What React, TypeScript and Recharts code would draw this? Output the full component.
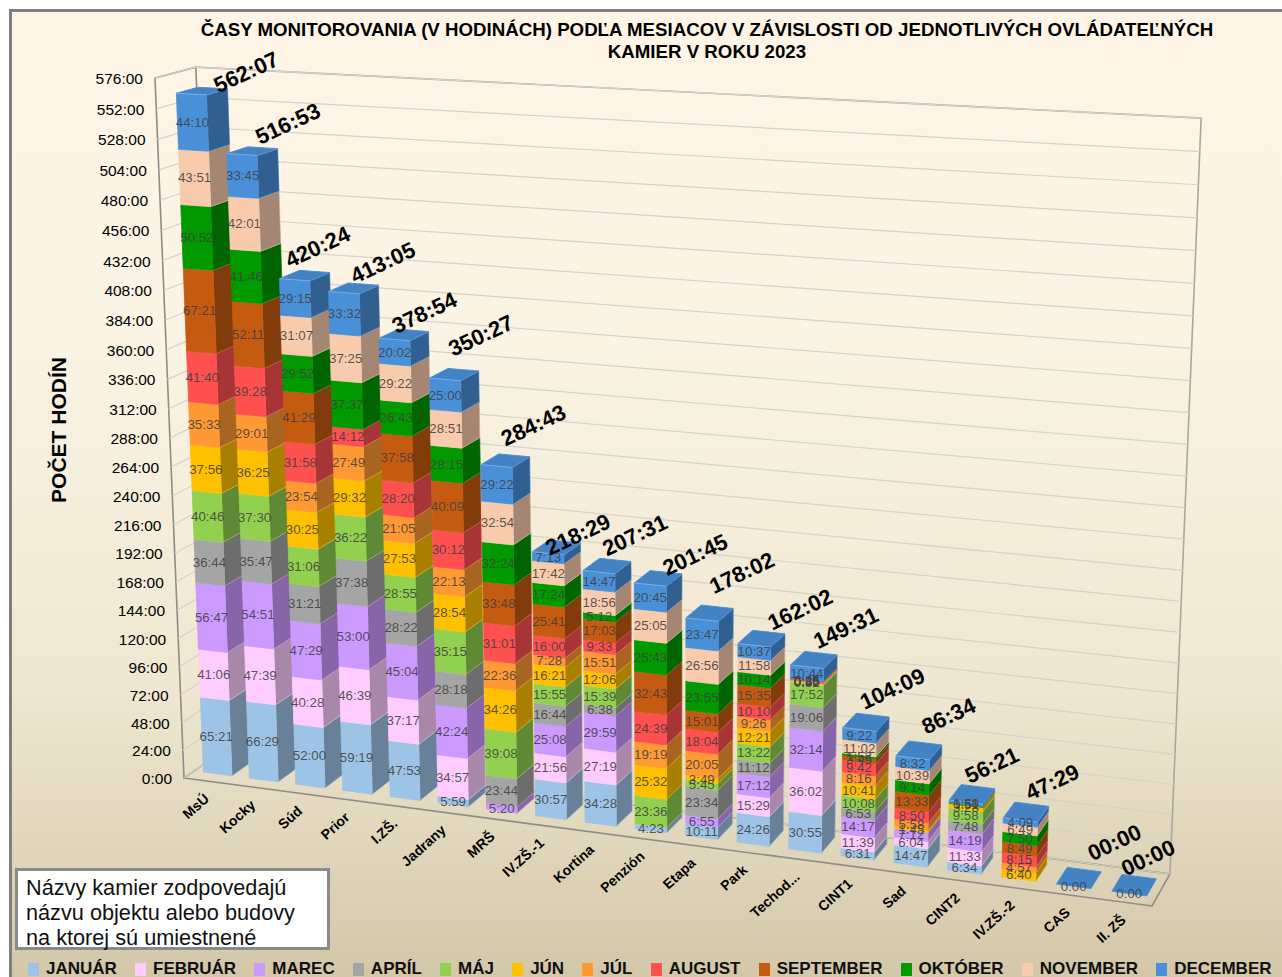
import React from 'react';
import { BarChart, Bar, XAxis, YAxis, CartesianGrid, Legend } from 'recharts';

const cameras = ['MsÚ','Kocky','Súd','Prior','I.ZŠ.','Jadrany','MRŠ','IV.ZŠ.-1','Kortina','Penzión','Etapa','Park','Techod...','CINT1','Sad','CINT2','IV.ZŠ.-2','CAS','II. ZŠ'];
const januar   = ['65:21','66:29','52:00','59:19','47:53','5:59','','30:57','34:28','4:23','10:11','24:26','30:55','6:31','14:47','6:34','','',''];
const februar  = ['41:06','47:39','40:28','46:39','37:17','34:57','','21:56','27:19','','','15:29','36:02','11:39','6:04','11:33','','',''];
const marec    = ['56:47','54:51','47:29','53:00','45:04','42:24','5:20','25:08','29:59','','6:55','17:12','32:14','14:17','7:12','14:19','','',''];
const april    = ['36:44','35:47','31:21','37:38','28:22','28:18','23:44','16:44','6:38','','23:34','11:12','19:06','6:53','','7:48','','',''];
const maj      = ['40:46','37:30','31:06','36:22','28:55','35:15','39:08','15:55','15:39','23:36','5:45','13:22','17:52','10:08','','9:58','','',''];
const jun      = ['37:56','36:25','30:25','29:32','27:53','28:54','34:26','16:21','12:06','25:32','3:49','12:21','0:52','10:41','1:45','3:28','6:40','',''];
const jul      = ['35:33','29:01','23:54','27:49','21:05','22:13','22:36','7:28','15:51','19:19','20:05','9:26','0:46','8:16','5:58','','4:57','',''];
const august   = ['41:40','39:28','31:58','14:12','28:20','30:12','31:01','16:00','9:33','24:39','18:04','10:10','0:35','9:42','8:50','','8:15','',''];
const september= ['67:21','52:11','41:29','','37:58','40:09','33:48','25:41','17:03','32:43','15:01','15:35','0:25','3:45','13:33','','8:49','',''];
const oktober  = ['50:52','41:46','29:52','37:37','26:43','28:15','32:24','17:24','5:12','25:43','23:55','10:14','','1:53','9:14','0:51','7:50','',''];
const november = ['43:51','42:01','31:07','37:25','29:22','28:51','32:54','17:42','18:56','25:05','26:56','11:58','','11:02','10:39','','6:49','',''];
const december = ['44:10','33:45','29:15','33:32','20:02','25:00','29:22','7:13','14:47','20:45','23:47','10:37','10:44','9:22','8:32','1:50','4:09','0:00','0:00'];

const monthKeys = ['jan','feb','mar','apr','maj','jun','jul','aug','sep','okt','nov','dec'];
const monthNames = ['JANUÁR','FEBRUÁR','MAREC','APRÍL','MÁJ','JÚN','JÚL','AUGUST','SEPTEMBER','OKTÓBER','NOVEMBER','DECEMBER'];
const monthColors = ['#9DC3E6','#FFCCFF','#CC99FF','#A5A5A5','#92D050','#FFC000','#FF9933','#FF5050','#C55A11','#009900','#F8CBAD','#4A90D9'];
const monthValues = [januar,februar,marec,april,maj,jun,jul,august,september,oktober,november,december];
const hourTicks = [0,24,48,72,96,120,144,168,192,216,240,264,288,312,336,360,384,408,432,456,480,504,528,552,576];

// hand placement of the total labels, relative to the top of each bar (as moved in the original)
const totalNudgeX = [58,49,26,42,33,39,40,33,39,48,43,49,42,36,39,29,35,44,22];
const totalNudgeY = [-15,-24,-26,-23,-20,-37,-34,-12,-30,-23,-40,-29,-32,-34,-35,-30,-31,-37,-29];

const toMinutes = (s: string) => { if (!s) return 0; const [h, m] = s.split(':').map(Number); return h * 60 + m; };
const rows = cameras.map((name, i) => {
  const row: any = { name, nudgeX: totalNudgeX[i], nudgeY: totalNudgeY[i] };
  let sum = 0;
  monthKeys.forEach((k, j) => {
    const mins = toMinutes(monthValues[j][i]);
    sum += mins;
    row[k] = mins / 60;
    row[k + 'Label'] = monthValues[j][i];
  });
  const h = Math.floor(sum / 60), m = sum % 60;
  row.total = `${String(h).padStart(2, '0')}:${String(m).padStart(2, '0')}`;
  return row;
});

// ---- projection of the box of the 3D chart onto the page
const W = 1282, H = 977;
type P = [number, number];
const A: P = [184, 778], B: P = [1152, 906], C: P = [1170, 874], D: P = [222, 752], E: P = [155, 78];
const VY = 12760;
const det = (a: number[], b: number[], c: number[]) =>
  a[0] * (b[1] * c[2] - b[2] * c[1]) - b[0] * (a[1] * c[2] - a[2] * c[1]) + c[0] * (a[1] * b[2] - a[2] * b[1]);
const h3 = (p: P) => [p[0], p[1], 1];
const a3 = h3(A), b3 = h3(B), c3 = h3(C), d3 = h3(D), e3 = h3(E);
const neg = (v: number[]) => v.map((x) => -x);
const d0 = det(b3, d3, neg(c3));
const alpha = det(a3, d3, neg(c3)) / d0;
const gamma = det(b3, a3, neg(c3)) / d0;
const beta = (VY - A[1]) / (VY - E[1]);
const col = (k: number, v: number[]) => v.map((x, i) => k * x - a3[i]);
const p1 = col(alpha, b3), p2 = col(beta, e3), p3 = col(gamma, d3);
const proj = (u: number, v: number, w: number): P => {
  const q = [0, 1, 2].map((i) => p1[i] * u + p2[i] * v + p3[i] * w + a3[i]);
  return [q[0] / q[2], q[1] / q[2]];
};
const px = (x: number) => (x - 1) / (W - 1);
const py = (y: number) => (H - 1 - y) / (H - 1);
const W0 = 0.27, W1 = 0.8;
const poly = (pts: P[]) => pts.map((p) => `${p[0].toFixed(2)},${p[1].toFixed(2)}`).join(' ');
const shade = (hex: string, f: number) => {
  const n = parseInt(hex.slice(1), 16);
  const c = [(n >> 16) & 255, (n >> 8) & 255, n & 255].map((x) => Math.round(x * f));
  return `rgb(${c[0]},${c[1]},${c[2]})`;
};

// three stacks share a category band: side/top faces, front faces, texts
const SideShape = (monthIdx: number) => (props: any) => {
  const { x, y, width, height } = props;
  const xR = px(x + 3 * width), xL = px(x);
  const t = py(y), b = py(y + height);
  const color = monthColors[monthIdx];
  return (
    <g>
      {height > 0 && (
        <>
          <polygon points={poly([proj(xR, b, W0), proj(xR, b, W1), proj(xR, t, W1), proj(xR, t, W0)])}
            fill={shade(color, 0.66)} stroke={shade(color, 0.85)} strokeWidth={0.6} />
          <polyline points={poly([proj(xR, t, W0), proj(xR, t, W1)])} fill="none" stroke="#fff" strokeOpacity={0.4} strokeWidth={1} />
        </>
      )}
      {monthIdx === 11 && (
        <polygon points={poly([proj(xL, t, W0), proj(xR, t, W0), proj(xR, t, W1), proj(xL, t, W1)])}
          fill={shade(color, 0.9)} stroke={color} strokeWidth={1} />
      )}
    </g>
  );
};
const FrontShape = (monthIdx: number) => (props: any) => {
  const { x, y, width, height } = props;
  if (!(height > 0)) return <g />;
  const xL = px(x - width), xR = px(x + 2 * width);
  const t = py(y), b = py(y + height);
  const color = monthColors[monthIdx];
  return (
    <g>
      <polygon points={poly([proj(xL, b, W0), proj(xR, b, W0), proj(xR, t, W0), proj(xL, t, W0)])}
        fill={color} stroke={color} strokeWidth={0.8} />
      <polyline points={poly([proj(xL, t, W0), proj(xR, t, W0)])} fill="none" stroke="#fff" strokeOpacity={0.25} strokeWidth={1} />
    </g>
  );
};
const TextShape = (monthIdx: number) => (props: any) => {
  const { x, y, width, height, payload } = props;
  const label = payload[monthKeys[monthIdx] + 'Label'];
  const xC = px(x - 2 * width + 1.5 * width);
  const c = proj(xC, py(y + height / 2), W0);
  const top = proj(xC, py(y), W0);
  return (
    <g>
      {label && (
        <text x={c[0]} y={c[1] + 4.5} textAnchor="middle" fontFamily="Liberation Sans" fontSize={13.3} fill="#404040" fillOpacity={0.88}>{label}</text>
      )}
      {monthIdx === 11 && (
        <text transform={`translate(${top[0] + payload.nudgeX},${top[1] + payload.nudgeY}) rotate(-25)`} textAnchor="middle"
          fontFamily="Liberation Sans" fontWeight="bold" fontSize={22} fill="#000">{payload.total}</text>
      )}
    </g>
  );
};

const YTick = (props: any) => {
  const { y, payload } = props;
  const p = proj(0, py(y), 0);
  return <text x={p[0] - 12} y={p[1] + 6} textAnchor="end" fontFamily="Liberation Sans" fontSize={15.5} fill="#000">{`${payload.value}:00`}</text>;
};
const XTick = (props: any) => {
  const { x, payload } = props;
  const p = proj(px(x), 0, 0);
  return (
    <text transform={`translate(${p[0] + 3},${p[1] + 19}) rotate(-42)`} textAnchor="end"
      fontFamily="Liberation Sans" fontWeight="bold" fontSize={14} fill="#000">{payload.value}</text>
  );
};
const gridLine = (props: any) => {
  const v = py(props.y1);
  const pts = [proj(0, v, 0), proj(0, v, 1), proj(1, v, 1)];
  return <polyline key={props.key ?? props.index} points={poly(pts)} fill="none" stroke="#D6D2C8" strokeWidth={1.2} />;
};

const LegendRow = () => (
  <div style={{ display: 'flex', fontFamily: 'Liberation Sans', fontWeight: 'bold', fontSize: 17, lineHeight: '18px', color: '#111', whiteSpace: 'nowrap' }}>
    {monthNames.map((n, i) => (
      <span key={n} style={{ display: 'flex', alignItems: 'center', marginRight: 18.2 }}>
        <span style={{ width: 11, height: 13, background: monthColors[i], marginRight: 7, display: 'inline-block' }} />
        {n}
      </span>
    ))}
  </div>
);

const Frame = () => {
  const a = proj(0, 0, 0), b = proj(1, 0, 0), c = proj(1, 0, 1), d = proj(0, 0, 1);
  const e = proj(0, 1, 0), h = proj(0, 1, 1), g = proj(1, 1, 1);
  const s = { fill: 'none', stroke: '#8E8C86', strokeWidth: 1.6 };
  return (
    <svg width={W} height={H} style={{ position: 'absolute', left: 0, top: 0 }}>
      <polyline points={poly([a, b, c, d, a, e, h, d])} {...s} />
      <polyline points={poly([h, g, c])} {...s} stroke="#A9A79F" />
      <text x={707} y={36} textAnchor="middle" fontFamily="Liberation Sans" fontWeight="bold" fontSize={18.7} fill="#000">ČASY MONITOROVANIA (V HODINÁCH) PODĽA MESIACOV V ZÁVISLOSTI OD JEDNOTLIVÝCH OVLÁDATEĽNÝCH</text>
      <text x={707} y={58} textAnchor="middle" fontFamily="Liberation Sans" fontWeight="bold" fontSize={18.7} fill="#000">KAMIER V ROKU 2023</text>
      <text transform="translate(66,430) rotate(-90)" textAnchor="middle" fontFamily="Liberation Sans" fontWeight="bold" fontSize={21} fill="#000">POČET HODÍN</text>
    </svg>
  );
};

export default function App() {
  return (
    <div style={{ position: 'absolute', left: 0, top: 0, width: W, height: H, overflow: 'hidden', background: '#fff' }}>
      <div style={{ position: 'absolute', left: 9, top: 9, right: -5, bottom: -5, border: '3px solid #7F7F7F', background: 'linear-gradient(180deg,#FFF5E6 0%,#FBF3E3 35%,#EFE7D1 70%,#D3C7A8 100%)' }} />
      <Frame />
      <div style={{ position: 'absolute', left: 0, top: 0 }}>
        <BarChart width={W} height={H} data={rows} margin={{ top: 0, right: 0, bottom: 0, left: 0 }} barCategoryGap="19.5%" barGap={0}>
          <CartesianGrid vertical={false} horizontal={gridLine} horizontalValues={hourTicks} stroke="none" />
          <XAxis dataKey="name" height={1} axisLine={false} tickLine={false} interval={0} tick={<XTick />} />
          <YAxis width={1} domain={[0, 576]} ticks={hourTicks} axisLine={false} tickLine={false} interval={0} tick={<YTick />} />
          <Legend content={<LegendRow />} wrapperStyle={{ position: 'absolute', left: 28, top: 960, width: 1260, height: 0, bottom: 'auto', overflow: 'visible' }} />
          {monthKeys.map((k, i) => (
            <Bar key={'s' + k} dataKey={k} stackId="side" fill={monthColors[i]} legendType="none" isAnimationActive={false} shape={SideShape(i)} />
          ))}
          {monthKeys.map((k, i) => (
            <Bar key={'f' + k} dataKey={k} stackId="front" name={monthNames[i]} fill={monthColors[i]} isAnimationActive={false} shape={FrontShape(i)} />
          ))}
          {monthKeys.map((k, i) => (
            <Bar key={'t' + k} dataKey={k} stackId="text" fill="none" legendType="none" isAnimationActive={false} shape={TextShape(i)} />
          ))}
        </BarChart>
      </div>
      <div style={{ position: 'absolute', left: 15, top: 868, width: 301, height: 72, background: '#fff', border: '3px solid #8A8A8A', fontFamily: 'Liberation Sans', fontSize: 21.7, lineHeight: '25px', color: '#111', paddingLeft: 8, paddingTop: 4, whiteSpace: 'nowrap' }}>
        Názvy kamier zodpovedajú<br />názvu objektu alebo budovy<br />na ktorej sú umiestnené
      </div>
    </div>
  );
}
